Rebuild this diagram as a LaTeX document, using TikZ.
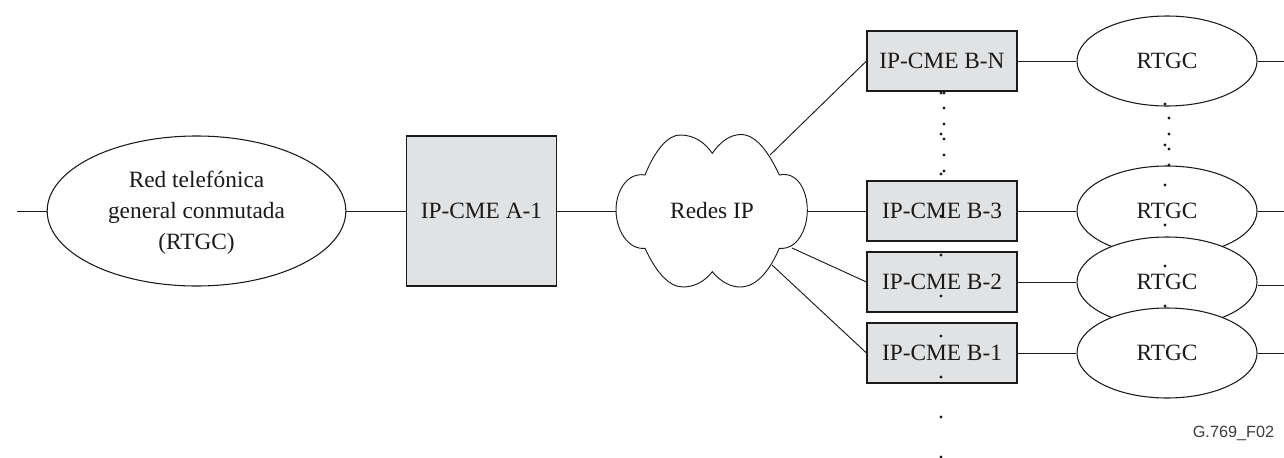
\documentclass[tikz,border=0pt]{standalone}
\usepackage{fontspec}
\setmainfont{Liberation Serif}
\newfontfamily\labelsans{Liberation Sans}
\usetikzlibrary{shapes.geometric}
\definecolor{boxgrey}{HTML}{E1E2E4}
\definecolor{ink}{HTML}{1A1A1A}
\tikzset{
  every node/.style={text=ink},
  lbl/.style={font=\fontsize{17.5}{23.25}\selectfont},
  capline/.style={lbl,text height=11.6pt,text depth=0pt},
  cmebox/.style={draw=ink,fill=boxgrey,line width=0.8pt,rectangle,inner sep=0pt,minimum width=112.5pt,minimum height=45pt,capline},
  cmebig/.style={cmebox,minimum height=112.5pt},
  ovalbase/.style={draw=ink,fill=white,line width=0.8pt,ellipse,inner sep=0pt,minimum width=135pt,minimum height=67.5pt},
  rtgc/.style={ovalbase,capline},
  redoval/.style={ovalbase,minimum width=224pt,minimum height=112.5pt},
  wire/.style={draw=ink,line width=0.7pt},
  cloudshape/.style={draw=ink,fill=white,line width=0.7pt},
  dotmark/.style={fill=ink,draw=none}
}
\begin{document}
\begin{tikzpicture}[x=0.75pt,y=-0.75pt]
\useasboundingbox (0,0) rectangle (1284,457);
% cloud
\path[cloudshape] (616,210)
  .. controls (616,190) and (628,172) .. (645,175)
  .. controls (655,150) and (668,135) .. (680,135)
  .. controls (695,135) and (705,143) .. (712.3,153.3)
  .. controls (720,142) and (730,134.5) .. (741,134.5)
  .. controls (757,134.5) and (770,155) .. (779.3,175)
  .. controls (797,171) and (807.3,190) .. (807.3,210)
  .. controls (807.3,230) and (797,250) .. (779.3,248.3)
  .. controls (770,270) and (757,287) .. (740,287)
  .. controls (730,287) and (720,281) .. (712.3,271.7)
  .. controls (705,281) and (695,287) .. (683,287)
  .. controls (668,287) and (655,270) .. (645,248.3)
  .. controls (628,250) and (616,230) .. (616,210) -- cycle;
\node[capline] (redes) at (712,211) {Redes IP};
\coordinate (cloudW) at (616,211);
\coordinate (cloudE) at (807.3,211);
\coordinate (cloudNE) at (770,155);
\coordinate (cloudSE1) at (792,248);
\coordinate (cloudSE2) at (772,265);
% main nodes
\node[redoval] (rtgcA) at (196.5,211) {};
\node[lbl,align=center] (rtgcAtext) at (196.5,212.5) {Red telefónica\\general conmutada\\(RTGC)};
\node[cmebig] (a1) at (481.5,211) {IP-CME A-1};
\node[cmebox] (bn) at (942,61) {IP-CME B-N};
\node[cmebox] (b3) at (942,211) {IP-CME B-3};
\node[cmebox] (b2) at (942,282) {IP-CME B-2};
\node[cmebox] (b1) at (942,353) {IP-CME B-1};
\node[rtgc] (en) at (1167,61) {RTGC};
\node[rtgc] (e3) at (1167,211) {RTGC};
\node[rtgc] (e2) at (1167,282) {RTGC};
\node[rtgc] (e1) at (1167,353) {RTGC};
% free ends
\coordinate (inA) at (17,211);
\coordinate (outN) at (1284,61);
\coordinate (out3) at (1284,211);
\coordinate (out2) at (1284,285.5);
\coordinate (out1) at (1284,353);
% connectors
\path[wire] (inA) -- (rtgcA.west);
\path[wire] (rtgcA.east) -- (a1.west);
\path[wire] (a1.east) -- (cloudW);
\path[wire] (cloudE) -- (b3.west);
\path[wire] (cloudNE) -- (bn.west);
\path[wire] (cloudSE1) -- (b2.west);
\path[wire] (cloudSE2) -- (b1.west);
\path[wire] (bn.east) -- (en.west);
\path[wire] (b3.east) -- (e3.west);
\path[wire] (b2.east) -- (e2.west);
\path[wire] (b1.east) -- (e1.west);
\path[wire] (en.east) -- (outN);
\path[wire] (e3.east) -- (out3);
\path[wire] (e2.east |- out2) -- (out2);
\path[wire] (e1.east) -- (out1);
% dotted continuation marks
\foreach \y in {93,134,174,216,255,296,336,377,417,457}
  \fill[dotmark] (941,\y) circle (1.7);
\foreach \y in {93,108,124,139,155,171}
  \fill[dotmark] (944,\y) circle (1.7);
\foreach \y in {104,145,185,225,266,306}
  \fill[dotmark] (1165,\y) circle (1.7);
\foreach \y in {118,134,149,165}
  \fill[dotmark] (1169,\y) circle (1.7);
\node[font=\labelsans\fontsize{12.2}{14}\selectfont,text=ink!85] (ref) at (1233.5,433) {G.769\_F02};
\end{tikzpicture}
\end{document}
